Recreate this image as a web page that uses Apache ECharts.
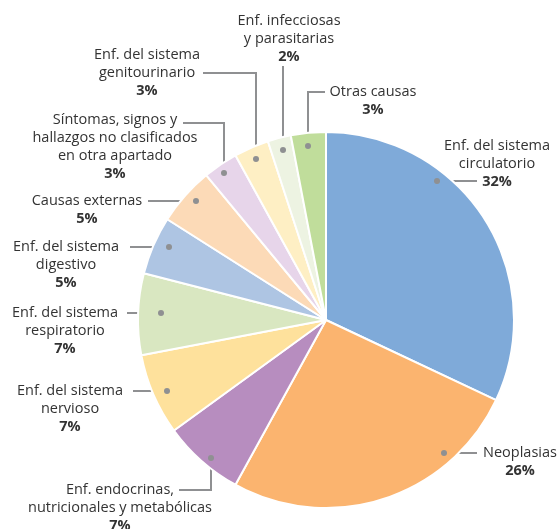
<!DOCTYPE html>
<html>
<head>
<meta charset="utf-8">
<script src="https://cdn.jsdelivr.net/npm/echarts@6/dist/echarts.min.js"></script>
<style>
  html, body { margin: 0; padding: 0; background: #fff; }
  #main { width: 557px; height: 529px; }
</style>
</head>
<body>
<div id="main"></div>
<script>
var causas = [
    'Enf. del sistema\ncirculatorio',
    'Neoplasias',
    'Enf. endocrinas,\nnutricionales y metabólicas',
    'Enf. del sistema\nnervioso',
    'Enf. del sistema\nrespiratorio',
    'Enf. del sistema\ndigestivo',
    'Causas externas',
    'Síntomas, signos y\nhallazgos no clasificados\nen otra apartado',
    'Enf. del sistema\ngenitourinario',
    'Enf. infecciosas\ny parasitarias',
    'Otras causas'
];
var porcentajes = [32, 26, 7, 7, 7, 5, 5, 3, 3, 2, 3];

var colores = ['#7faad9', '#fbb46f', '#b78dbf', '#fee19c', '#d9e7c1', '#aec5e3',
    '#fcdab7', '#e7d5ea', '#feefc4', '#edf3e2', '#c0dd9b'];

// donde va cada etiqueta: centro x, y de la primera linea y recorrido de la guia (desde el punto)
var etiquetas = [
    { x: 497, y: 146, line: [[437, 181], [477, 181]] },
    { x: 520, y: 453, line: [[444, 453], [477, 453]] },
    { x: 120, y: 490, line: [[211, 458], [211, 490], [179, 490]] },
    { x: 70, y: 391, line: [[167, 391], [133, 391]] },
    { x: 65, y: 313, line: [[161, 313], [127, 313]] },
    { x: 66, y: 247, line: [[169, 247], [130, 247]] },
    { x: 87, y: 201, line: [[196, 201], [148, 201]] },
    { x: 115, y: 120, line: [[224, 173], [224, 123], [183, 123]] },
    { x: 147, y: 55, line: [[256, 159], [256, 73], [203, 73]] },
    { x: 289, y: 21, line: [[283, 150], [283, 66]] },
    { x: 373, y: 92, line: [[308, 146], [308, 92], [325, 92]] }
];

var lineH = 18;

var chart = echarts.init(document.getElementById('main'));

var datos = causas.map(function (c, i) {
    return { name: c, value: porcentajes[i], itemStyle: { color: colores[i] } };
});

var puntos = etiquetas.map(function (e) {
    return {
        type: 'circle',
        shape: { cx: e.line[0][0], cy: e.line[0][1], r: 3 },
        style: { fill: '#8f9092' },
        z: 100
    };
});

var option = {
    animation: false,
    backgroundColor: '#ffffff',
    series: [{
        type: 'pie',
        center: [326, 320],
        radius: 188,
        startAngle: 90,
        clockwise: true,
        data: datos,
        itemStyle: { borderColor: '#ffffff', borderWidth: 2 },
        label: {
            show: true,
            position: 'outside',
            overflow: 'none',
            formatter: function (p) {
                return '{n|' + p.name.split('\n').join('}\n{n|') + '}\n{p|' + p.value + '%}';
            },
            rich: {
                n: { fontFamily: 'Open Sans', fontSize: 14.5, color: '#333333', lineHeight: lineH, align: 'center' },
                p: { fontFamily: 'Open Sans', fontSize: 14.5, fontWeight: 'bold', color: '#333333', lineHeight: lineH, align: 'center' }
            }
        },
        labelLine: {
            show: true,
            smooth: false,
            lineStyle: { color: '#8f9092', width: 2 }
        },
        labelLayout: function (params) {
            var e = etiquetas[params.dataIndex];
            return {
                x: e.x,
                y: e.y - lineH / 2,
                align: 'center',
                verticalAlign: 'top',
                labelLinePoints: e.line
            };
        }
    }],
    graphic: puntos
};

chart.setOption(option);
</script>
</body>
</html>
